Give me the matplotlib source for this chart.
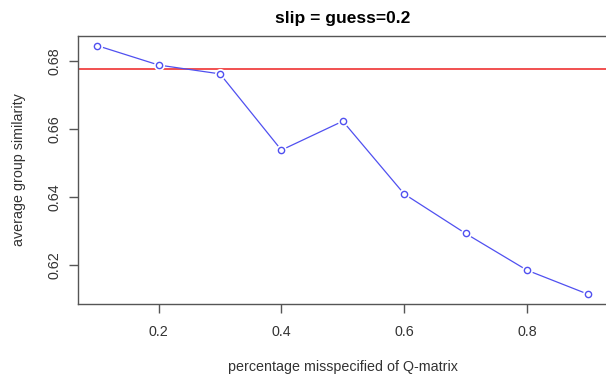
import numpy as np
import matplotlib
matplotlib.use("Agg")
import matplotlib.pyplot as plt

plt.rcParams['font.family'] = ['Liberation Sans', 'DejaVu Sans']

# percentage misspecified vs. average group similarity
pct = [0.1, 0.2, 0.3, 0.4, 0.5, 0.6, 0.7, 0.8, 0.9]
similarity = [0.6846, 0.6789, 0.6763, 0.6539, 0.6624, 0.6410, 0.6294, 0.6186, 0.6115]
baseline = 0.6776

x_ticks = [0.2, 0.4, 0.6, 0.8]
y_ticks = [0.62, 0.64, 0.66, 0.68]

W, H = 606, 377
fig = plt.figure(figsize=(W / 100, H / 100), dpi=100)
# plot box in pixels (right edge just past the picture)
left, right, top, bottom = 77.6, 608.0, 35.7, 304.3
ax = fig.add_axes([left / W, 1 - bottom / H, (right - left) / W, (bottom - top) / H])

# R style 4% padding around the data range
xr = max(pct) - min(pct)
yr = max(similarity) - min(similarity)
ax.set_xlim(min(pct) - 0.04 * xr, max(pct) + 0.04 * xr)
ax.set_ylim(min(similarity) - 0.04 * yr, max(similarity) + 0.04 * yr)

blue = '#5050f0'
ax.axhline(baseline, color='#ee2020', lw=1.1, zorder=2)
ax.plot(pct, similarity, color=blue, lw=0.9, zorder=3)
ax.plot(pct, similarity, ls='none', marker='o', ms=8, mfc='white', mec='none', zorder=4)
ax.plot(pct, similarity, ls='none', marker='o', ms=4.5, mfc='white', mec=blue, mew=1.0, zorder=5)

for side in ['left', 'bottom', 'top', 'right']:
    ax.spines[side].set_color('#555555')
    ax.spines[side].set_linewidth(1.0)

ax.set_xticks(x_ticks)
ax.set_xticklabels([f'{v:.1f}' for v in x_ticks])
ax.set_yticks(y_ticks)
ax.set_yticklabels([f'{v:.2f}' for v in y_ticks], rotation=90, va='center')
ax.tick_params(axis='both', length=6.2, width=1.0, color='#555555', labelsize=10.3,
               labelcolor='#333333')
ax.tick_params(axis='x', pad=8.5)
ax.tick_params(axis='y', pad=5.5)

fig.text(19.5 / W, 1 - 170 / H, 'average group similarity', rotation=90, ha='center',
         va='center', fontsize=10.3, color='#333333')
fig.text(343 / W, 1 - 367 / H, 'percentage misspecified of Q-matrix', ha='center',
         va='center', fontsize=10.3, color='#333333')
fig.text(343 / W, 1 - 19 / H, 'slip = guess=0.2', ha='center', va='center',
         fontsize=12.5, fontweight='bold')

fig.savefig('out.png', dpi=100)
